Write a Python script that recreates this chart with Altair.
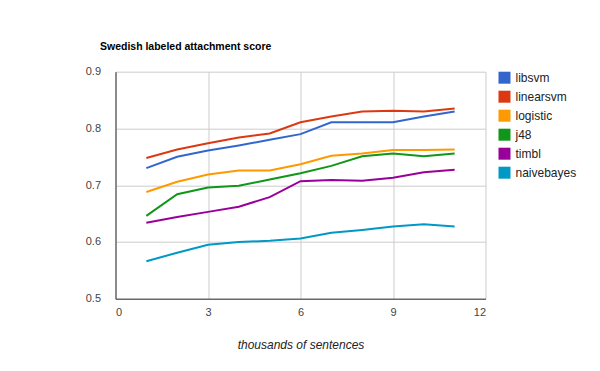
import altair as alt
import pandas as pd

sentences = [1, 2, 3, 4, 5, 6, 7, 8, 9, 10, 11]
libsvm = [0.730, 0.750, 0.761, 0.770, 0.780, 0.790, 0.811, 0.811, 0.811, 0.821, 0.830]
linearsvm = [0.748, 0.763, 0.774, 0.784, 0.791, 0.811, 0.821, 0.830, 0.831, 0.830, 0.835]
logistic = [0.688, 0.706, 0.719, 0.726, 0.726, 0.737, 0.752, 0.756, 0.762, 0.762, 0.763]
j48 = [0.646, 0.684, 0.696, 0.699, 0.710, 0.721, 0.734, 0.751, 0.756, 0.751, 0.756]
timbl = [0.634, 0.644, 0.653, 0.662, 0.679, 0.707, 0.709, 0.708, 0.713, 0.723, 0.727]
naivebayes = [0.566, 0.581, 0.595, 0.600, 0.602, 0.606, 0.616, 0.621, 0.627, 0.631, 0.627]

series_names = ["libsvm", "linearsvm", "logistic", "j48", "timbl", "naivebayes"]
series_values = [libsvm, linearsvm, logistic, j48, timbl, naivebayes]
colors = ["#3366cc", "#dc3912", "#ff9900", "#109618", "#990099", "#0099c6"]

rows = []
for name, vals in zip(series_names, series_values):
    for x, v in zip(sentences, vals):
        rows.append({"x": x, "score": v, "classifier": name})
df = pd.DataFrame(rows)

FONT = "Liberation Sans"

x_enc = alt.X("x:Q",
              scale=alt.Scale(domain=[0, 12], nice=False),
              axis=alt.Axis(values=[0, 3, 6, 9, 12], title="thousands of sentences",
                            titleFontStyle="italic", titleFontWeight="normal",
                            titleFontSize=12, titleColor="#222",
                            titleBaseline="alphabetic", titleY=50))
y_enc = alt.Y("score:Q",
              scale=alt.Scale(domain=[0.5, 0.9], nice=False),
              axis=alt.Axis(values=[0.5, 0.6, 0.7, 0.8, 0.9], format=".1f", title=None))
color_enc = alt.Color("classifier:N",
                      scale=alt.Scale(domain=series_names, range=colors),
                      sort=series_names,
                      legend=alt.Legend(title=None, orient="right", offset=13,
                                        symbolType="square", symbolSize=144,
                                        symbolStrokeWidth=0,
                                        rowPadding=7, labelOffset=5, padding=0,
                                        labelFontSize=12, labelColor="#222",
                                        labelFont=FONT, labelLimit=200))

legend_layer = alt.Chart(df).mark_square(filled=True, size=144, opacity=1).encode(
    x=x_enc, y=y_enc, color=color_enc
).transform_filter("false")

line_layer = alt.Chart(df).mark_line(strokeWidth=2).encode(
    x=x_enc, y=y_enc, color=color_enc
)

chart = alt.layer(legend_layer, line_layer).properties(
    width=370,
    height=227,
    title=alt.TitleParams("Swedish labeled attachment score", anchor="start",
                          frame="group", dx=-15.5, offset=5.5,
                          baseline="alphabetic", fontSize=10.5,
                          fontWeight="bold", color="#000", font=FONT),
    autosize=alt.AutoSizeParams(type="none"),
    padding={"left": 107.5, "top": 63.7, "right": 100, "bottom": 60},
).configure_view(
    stroke=None
).configure_axis(
    labelFont=FONT,
    titleFont=FONT,
    labelFontSize=11,
    labelColor="#444",
    gridColor="#cccccc",
    gridWidth=1,
    domainColor="#333333",
    domainWidth=1,
    ticks=False,
).configure_axisY(
    labelPadding=15,
    domain=True,
).configure_axisX(
    labelPadding=8,
)

chart.save("out.html", embed_options={"renderer": "svg", "actions": False})
